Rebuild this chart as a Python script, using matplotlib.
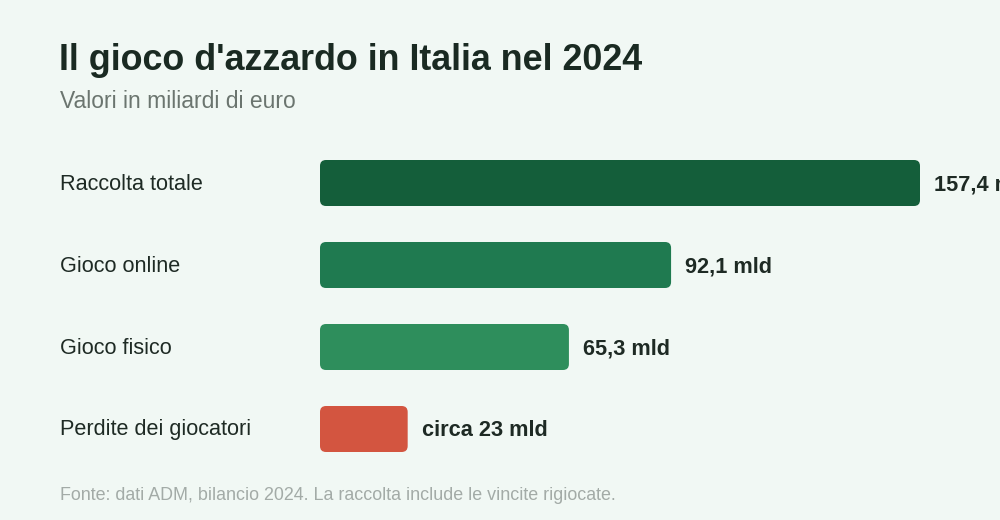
import matplotlib
matplotlib.use("Agg")
from matplotlib import pyplot as plt
from matplotlib.patches import FancyBboxPatch

plt.rcParams['font.family'] = ['Liberation Sans', 'DejaVu Sans']

categories = ["Raccolta totale", "Gioco online", "Gioco fisico", "Perdite dei giocatori"]
values = [157.4, 92.1, 65.3, 23.0]
value_labels = ["157,4 mld", "92,1 mld", "65,3 mld", "circa 23 mld"]
colors = ["#145e3a", "#1f7a50", "#2e8e5c", "#d35540"]

title = "Il gioco d'azzardo in Italia nel 2024"
subtitle = "Valori in miliardi di euro"
footer = "Fonte: dati ADM, bilancio 2024. La raccolta include le vincite rigiocate."

BG = "#f1f8f4"
W, H = 1000, 520


def px(x, y):
	# pixel (from top-left) to figure fraction
	return x / W, 1 - y / H


fig = plt.figure(figsize=(10, 5.2), dpi=100, facecolor=BG)

# axes: x from 320px to 920px, y band from 142px to 470px
ax = fig.add_axes([320 / W, 1 - 470 / H, 600 / W, 328 / H])
ax.set_facecolor(BG)
ax.set_xlim(0, values[0])
ax.set_ylim(len(categories) - 0.5, -0.5)
ax.axis("off")

bar_h = 46 / 82
bars = ax.barh(range(len(categories)), values, height=bar_h, color=colors)

# swap plain bars for rounded ones
xu = values[0] / 600.0
yu = len(categories) / 328.0
r_px = 6
for b, c in zip(bars, colors):
	x0, y0 = b.get_x(), b.get_y()
	w, h = b.get_width(), b.get_height()
	b.remove()
	p = FancyBboxPatch((x0, y0), w, h,
		boxstyle="round,pad=0,rounding_size=%f" % (r_px * xu),
		mutation_aspect=yu / xu, facecolor=c, edgecolor="none")
	ax.add_patch(p)

for i, (v, lab) in enumerate(zip(values, value_labels)):
	ax.text(v + 14 * xu, i + 0.02, lab, va="center", ha="left", fontsize=15.7,
		fontweight="bold", color="#1e2a24", clip_on=False)

for i, cat in enumerate(categories):
	x, y = px(60, 184 + 82 * i)
	fig.text(x, y, cat, va="center", ha="left", fontsize=15.6, color="#1e2a24")

x, y = px(59, 61)
fig.text(x, y, title, va="center", ha="left", fontsize=25.8, fontweight="bold", color="#1a2a22")
x, y = px(60, 102)
fig.text(x, y, subtitle, va="center", ha="left", fontsize=16.5, color="#6b756f")
x, y = px(60, 496)
fig.text(x, y, footer, va="center", ha="left", fontsize=12.9, color="#a3aba7")

fig.savefig("out.png", dpi=100, facecolor=BG)
